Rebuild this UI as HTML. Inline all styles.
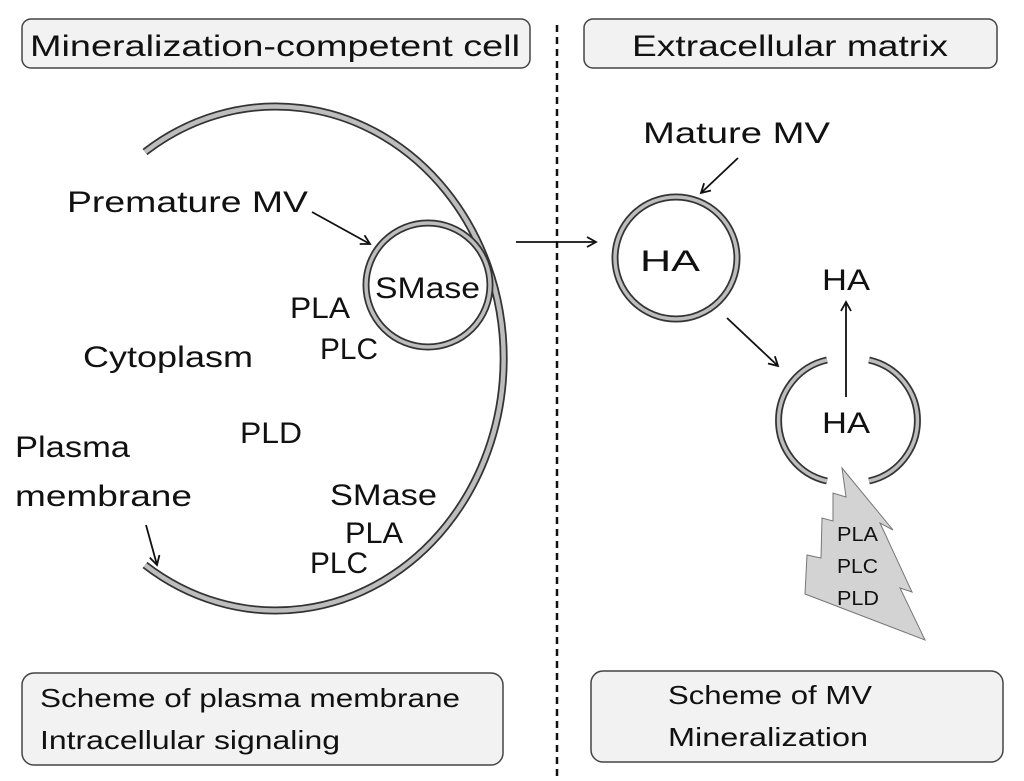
<!DOCTYPE html>
<html><head><meta charset="utf-8"><style>
html,body{margin:0;padding:0;background:#fff;}
svg{display:block;}
text{font-family:"Liberation Sans",sans-serif;fill:#111;}
</style></head><body>
<svg width="1024" height="781" viewBox="0 0 1024 781" xmlns="http://www.w3.org/2000/svg">
<defs>
<marker id="ah" markerWidth="12" markerHeight="12" refX="10" refY="6" orient="auto" markerUnits="userSpaceOnUse">
<path d="M1,1 L10,6 L1,11" fill="none" stroke="#111" stroke-width="1.8"/>
</marker>
</defs>
<!-- boxes -->
<g fill="#f2f2f2" stroke="#444" stroke-width="1.5">
<rect x="22" y="19" width="508" height="49" rx="9"/>
<rect x="584" y="19" width="413" height="49" rx="9"/>
<rect x="22" y="673" width="481" height="92" rx="12"/>
<rect x="591" y="671" width="412" height="91" rx="12"/>
</g>
<line x1="557" y1="25" x2="557" y2="781" stroke="#111" stroke-width="2.5" stroke-dasharray="7,5"/>

<!-- cell membrane -->
<path d="M145,152 A228,252 0 1,1 145,565" fill="none" stroke="#333" stroke-width="8"/>
<path d="M145,152 A228,252 0 1,1 145,565" fill="none" stroke="#bdbdbd" stroke-width="4.5"/>
<!-- premature MV -->
<circle cx="428" cy="285" r="62" fill="#fff" stroke="#333" stroke-width="7"/>
<circle cx="428" cy="285" r="62" fill="none" stroke="#bdbdbd" stroke-width="3.5"/>
<!-- mature MV -->
<circle cx="676" cy="258" r="61" fill="#fff" stroke="#333" stroke-width="7"/>
<circle cx="676" cy="258" r="61" fill="none" stroke="#bdbdbd" stroke-width="3.5"/>
<!-- open vesicle -->
<g fill="none">
<path d="M827,360 A62,62 0 0,0 827,481" stroke="#333" stroke-width="7"/>
<path d="M827,360 A62,62 0 0,0 827,481" stroke="#bdbdbd" stroke-width="3.5"/>
<path d="M869,360 A62,62 0 0,1 869,481" stroke="#333" stroke-width="7"/>
<path d="M869,360 A62,62 0 0,1 869,481" stroke="#bdbdbd" stroke-width="3.5"/>
</g>
<!-- spike -->
<polygon points="842,468 893,530 880,523 912,592 900,588 925,640 805,594 807,555 821,558 822,518 833,521 833,493 846,497" fill="#d3d3d3" stroke="#777" stroke-width="1"/>

<!-- arrows -->
<g stroke="#111" stroke-width="1.8" marker-end="url(#ah)">
<line x1="312" y1="212" x2="370" y2="244"/>
<line x1="146" y1="525" x2="157" y2="565"/>
<line x1="516" y1="242" x2="596" y2="242"/>
<line x1="738" y1="158" x2="701" y2="193"/>
<line x1="727" y1="318" x2="778" y2="366"/>
<line x1="846" y1="397" x2="846" y2="302"/>
</g>

<!-- text -->
<g font-size="30">
<text x="30" y="56" textLength="490" lengthAdjust="spacingAndGlyphs">Mineralization-competent cell</text>
<text x="632" y="56" textLength="316" lengthAdjust="spacingAndGlyphs">Extracellular matrix</text>
<text x="643" y="143" textLength="187" lengthAdjust="spacingAndGlyphs">Mature MV</text>
<text x="67" y="212" textLength="241" lengthAdjust="spacingAndGlyphs">Premature MV</text>
<text x="375" y="298" textLength="105" lengthAdjust="spacingAndGlyphs">SMase</text>
<text x="290" y="318" textLength="60" lengthAdjust="spacingAndGlyphs">PLA</text>
<text x="320" y="359" textLength="58" lengthAdjust="spacingAndGlyphs">PLC</text>
<text x="83" y="367" textLength="170" lengthAdjust="spacingAndGlyphs">Cytoplasm</text>
<text x="240" y="443" textLength="62" lengthAdjust="spacingAndGlyphs">PLD</text>
<text x="15" y="457" textLength="115" lengthAdjust="spacingAndGlyphs">Plasma</text>
<text x="15" y="506" textLength="177" lengthAdjust="spacingAndGlyphs">membrane</text>
<text x="330" y="505" textLength="107" lengthAdjust="spacingAndGlyphs">SMase</text>
<text x="345" y="543" textLength="58" lengthAdjust="spacingAndGlyphs">PLA</text>
<text x="310" y="573" textLength="58" lengthAdjust="spacingAndGlyphs">PLC</text>
<text x="640" y="271" textLength="60" lengthAdjust="spacingAndGlyphs">HA</text>
<text x="822" y="290" textLength="48" lengthAdjust="spacingAndGlyphs">HA</text>
<text x="822" y="433" textLength="48" lengthAdjust="spacingAndGlyphs">HA</text>
</g>
<g font-size="20">
<text x="837" y="541" textLength="41" lengthAdjust="spacingAndGlyphs">PLA</text>
<text x="837" y="573" textLength="41" lengthAdjust="spacingAndGlyphs">PLC</text>
<text x="837" y="605" textLength="42" lengthAdjust="spacingAndGlyphs">PLD</text>
</g>
<g font-size="26">
<text x="40" y="707" textLength="420" lengthAdjust="spacingAndGlyphs">Scheme of plasma membrane</text>
<text x="40" y="749" textLength="300" lengthAdjust="spacingAndGlyphs">Intracellular signaling</text>
<text x="668" y="704" textLength="204" lengthAdjust="spacingAndGlyphs">Scheme of MV</text>
<text x="668" y="746" textLength="200" lengthAdjust="spacingAndGlyphs">Mineralization</text>
</g>
</svg>
</body></html>
